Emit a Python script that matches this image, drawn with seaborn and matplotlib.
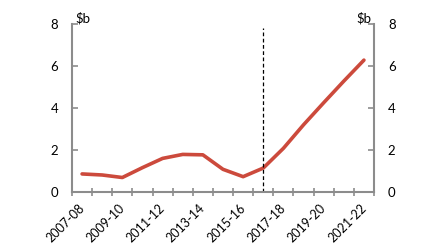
import matplotlib
matplotlib.use("Agg")
import matplotlib.pyplot as plt
import matplotlib.transforms as mtransforms
import seaborn as sns
import pandas as pd
import numpy as np

years = ["2007-08", "2008-09", "2009-10", "2010-11", "2011-12", "2012-13", "2013-14",
         "2014-15", "2015-16", "2016-17", "2017-18", "2018-19", "2019-20", "2020-21", "2021-22"]
values = [0.86, 0.81, 0.69, 1.16, 1.60, 1.79, 1.77, 1.08, 0.73, 1.14, 2.08, 3.20, 4.25, 5.28, 6.28]
forecast_start = "2016-17"
y_ticks = [0, 2, 4, 6, 8]

sns.set_theme(style="white")
plt.rcParams['font.family'] = ['Lato', 'DejaVu Sans']
plt.rcParams['text.color'] = 'black'
plt.rcParams['xtick.color'] = 'black'
plt.rcParams['ytick.color'] = 'black'

df = pd.DataFrame({"year": years, "value": values})

fig = plt.figure(figsize=(4.43, 2.49), dpi=100)
ax = fig.add_axes([72/443, 1-192/249, (374-72)/443, (192-24)/249])

sns.lineplot(data=df, x="year", y="value", ax=ax, color="#CC4A3C", linewidth=2.6, sort=False)

ax.set_xlim(-0.5, len(years) - 0.5)
ax.set_ylim(0, 8)
ax.set_xlabel("")
ax.set_ylabel("")

# dashed vertical line
ax.axvline(years.index(forecast_start), ymin=0, ymax=0.975, color="black", linestyle=(0, (3, 2)), linewidth=0.9)

gray = "#8c8c8c"
for s in ["left", "right", "bottom"]:
    ax.spines[s].set_visible(True)
    ax.spines[s].set_color(gray)
    ax.spines[s].set_linewidth(1.5)
ax.spines["top"].set_visible(False)

fs = 9.5
# x ticks: labels at centres (every other), marks at boundaries
ax.set_xticks(range(0, len(years), 2))
ax.set_xticklabels(years[::2], rotation=45, ha="right", rotation_mode="anchor", fontsize=9)
ax.tick_params(axis="x", which="major", length=0, pad=7, labelcolor="black")
shift = mtransforms.ScaledTranslation(-4/100, 0, fig.dpi_scale_trans)
for lab in ax.get_xticklabels():
    lab.set_transform(lab.get_transform() + shift)
ax.set_xticks(np.arange(-0.5, len(years), 1), minor=True)
ax.tick_params(axis="x", which="minor", length=6, width=1.2, color=gray, direction="inout", bottom=True)

ax.set_yticks(y_ticks)
ax.set_yticklabels([str(t) for t in y_ticks], fontsize=fs)
ax.tick_params(axis="y", which="major", length=4, width=1.2, color=gray, direction="in",
               left=True, right=True, labelleft=True, labelright=True, pad=10, labelcolor="black")

ax.text(0.01, 1.0, "$b", transform=ax.transAxes, fontsize=fs, ha="left", va="bottom")
ax.text(0.99, 1.0, "$b", transform=ax.transAxes, fontsize=fs, ha="right", va="bottom")

fig.savefig("out.png", dpi=100)
